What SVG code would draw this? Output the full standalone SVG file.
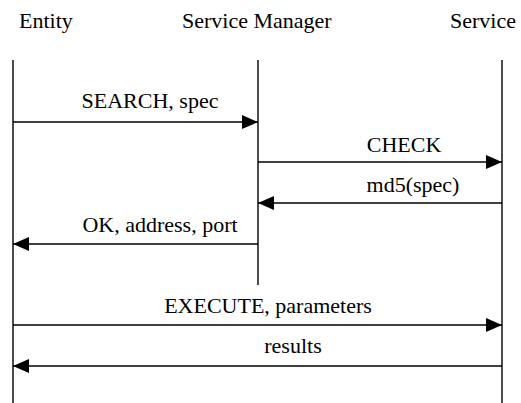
<svg xmlns="http://www.w3.org/2000/svg" width="521" height="403" viewBox="0 0 521 403">
<style>
text{font-size:22px;fill:#000}
.life{stroke:#000;stroke-width:1.4}
.msg{stroke:#000;stroke-width:1.6;fill:none}
</style>
<defs>
<marker id="ah" viewBox="0 0 16 14" refX="16" refY="7" markerWidth="16" markerHeight="14" markerUnits="userSpaceOnUse" orient="auto">
<path d="M0,0 L16,7 L0,14 Z" fill="#000"/>
</marker>
</defs>
<rect width="521" height="403" fill="#fff"/>
<g font-family="Liberation Serif, Times New Roman, serif">
<g id="entity">
<text x="19" y="28">Entity</text>
<line class="life" x1="13" y1="60" x2="13" y2="403"/>
</g>
<g id="service-manager">
<text x="182" y="28">Service Manager</text>
<line class="life" x1="258" y1="60" x2="258" y2="285"/>
</g>
<g id="service">
<text x="450" y="28">Service</text>
<line class="life" x1="502" y1="60" x2="502" y2="403"/>
</g>
<g id="connectors">
<line class="msg" x1="13" y1="122" x2="258" y2="122" marker-end="url(#ah)"/>
<text x="150" y="108" text-anchor="middle">SEARCH, spec</text>
<line class="msg" x1="258" y1="162" x2="502" y2="162" marker-end="url(#ah)"/>
<text x="404" y="152" text-anchor="middle">CHECK</text>
<line class="msg" x1="502" y1="203" x2="258" y2="203" marker-end="url(#ah)"/>
<text x="413" y="192" text-anchor="middle">md5(spec)</text>
<line class="msg" x1="258" y1="244" x2="13" y2="244" marker-end="url(#ah)"/>
<text x="160" y="232" text-anchor="middle">OK, address, port</text>
<line class="msg" x1="13" y1="325" x2="502" y2="325" marker-end="url(#ah)"/>
<text x="268" y="313" text-anchor="middle">EXECUTE, parameters</text>
<line class="msg" x1="502" y1="366" x2="13" y2="366" marker-end="url(#ah)"/>
<text x="293" y="353" text-anchor="middle">results</text>
</g>
</g>
</svg>
